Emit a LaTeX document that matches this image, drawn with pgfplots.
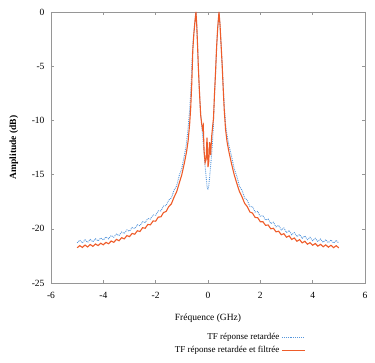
\documentclass[border=0pt]{standalone}
\usepackage{pgfplots}
\pgfplotsset{compat=1.18}
\usepackage{fontspec}
\setmainfont{Liberation Serif}

\definecolor{orng}{RGB}{238,92,42}
\definecolor{bluedot}{RGB}{85,150,220}
\definecolor{axgray}{RGB}{150,150,150}

\begin{document}
\begin{tikzpicture}
\useasboundingbox (-51pt,-80pt) rectangle (324pt,283pt);
\begin{axis}[
    scale only axis,
    width=314pt, height=271pt,
    xmin=-6, xmax=6, ymin=-25, ymax=0,
    xtick={-6,-4,...,6}, ytick={-25,-20,...,0},
    tick align=inside,
    major tick length=3pt,
    axis line style={axgray},
    every tick/.style={axgray},
    tick label style={font=\fontsize{9.5}{11}\selectfont},
    /pgf/number format/assume math mode=true,
    xticklabel style={yshift=-6pt},
    yticklabel style={xshift=-3pt},
    xlabel={Fréquence (GHz)},
    ylabel={\bfseries Amplitude (dB)},
    xlabel style={at={(axis description cs:0.5,-0.129)}, anchor=center, font=\fontsize{9.5}{11}\selectfont},
    ylabel style={at={(axis description cs:-0.118,0.5)}, anchor=center, font=\fontsize{9.5}{11}\selectfont},
    legend style={at={(axis description cs:0.82,-0.17)}, anchor=north east,
        draw=none, fill=none, font=\fontsize{9}{10}\selectfont,
        row sep=1.5pt},
    legend cell align=right,
    legend plot pos=right,
    legend image code/.code={\draw[#1] (0cm,0cm) -- (0.8cm,0cm);},
]
% TF reponse retardee
\addplot[bluedot, densely dotted, line width=0.9pt] coordinates {
(-5.0,-21.30) (-4.9,-21.05) (-4.8,-21.30) (-4.7,-21.02) (-4.6,-21.25)
(-4.5,-20.98) (-4.4,-21.20) (-4.3,-20.92) (-4.2,-21.12) (-4.1,-20.85)
(-4.0,-21.03) (-3.9,-20.75) (-3.8,-20.92) (-3.7,-20.62) (-3.6,-20.78)
(-3.5,-20.48) (-3.4,-20.62) (-3.3,-20.30) (-3.2,-20.43) (-3.1,-20.10)
(-3.0,-20.22) (-2.9,-19.88) (-2.8,-19.98) (-2.7,-19.63) (-2.6,-19.72)
(-2.5,-19.35) (-2.4,-19.42) (-2.3,-19.05) (-2.2,-19.10) (-2.1,-18.72)
(-2.0,-18.75) (-1.9,-18.35) (-1.8,-18.35) (-1.7,-17.90) (-1.6,-17.85)
(-1.5,-17.35) (-1.4,-17.15) (-1.3,-16.45) (-1.2,-16.05) (-1.1,-15.10)
(-1.0,-14.40) (-0.9,-13.20) (-0.84,-12.40) (-0.78,-11.20) (-0.72,-9.60)
(-0.68,-8.30) (-0.64,-6.40) (-0.60,-4.00) (-0.56,-2.40) (-0.50,-0.90)
(-0.46,0) (-0.43,-1.2) (-0.40,-3.0) (-0.37,-5.0) (-0.33,-7.2)
(-0.28,-9.5) (-0.24,-10.5) (-0.20,-11.5) (-0.15,-13.0) (-0.10,-14.5)
(-0.06,-15.5) (-0.03,-16.2) (0.00,-16.4) (0.03,-16.0) (0.06,-15.3)
(0.10,-14.2) (0.15,-12.8) (0.20,-10.8) (0.25,-7.5) (0.29,-5.5)
(0.33,-3.2) (0.37,-1.5) (0.42,0) (0.46,-1.2) (0.50,-3.0)
(0.54,-4.8) (0.58,-6.8) (0.62,-8.6) (0.67,-10.3) (0.73,-11.4)
(0.80,-12.3) (0.9,-13.3) (1.0,-14.45) (1.1,-15.15) (1.2,-16.05)
(1.3,-16.45) (1.4,-17.15) (1.5,-17.35) (1.6,-17.95) (1.7,-17.95)
(1.8,-18.45) (1.9,-18.40) (2.0,-18.85) (2.1,-18.78) (2.2,-19.20)
(2.3,-19.10) (2.4,-19.52) (2.5,-19.40) (2.6,-19.82) (2.7,-19.68)
(2.8,-20.10) (2.9,-19.92) (3.0,-20.35) (3.1,-20.15) (3.2,-20.55)
(3.3,-20.35) (3.4,-20.72) (3.5,-20.52) (3.6,-20.88) (3.7,-20.66)
(3.8,-21.00) (3.9,-20.78) (4.0,-21.10) (4.1,-20.88) (4.2,-21.18)
(4.3,-20.95) (4.4,-21.25) (4.5,-21.00) (4.6,-21.28) (4.7,-21.03)
(4.8,-21.32) (4.9,-21.06) (5.0,-21.34)
};
\addlegendentry{TF réponse retardée}
% TF reponse retardee et filtree
\addplot[orng, line width=1.1pt] coordinates {
(-5.0,-21.75) (-4.9,-21.55) (-4.8,-21.72) (-4.7,-21.50) (-4.6,-21.68)
(-4.5,-21.45) (-4.4,-21.62) (-4.3,-21.40) (-4.2,-21.55) (-4.1,-21.33)
(-4.0,-21.48) (-3.9,-21.25) (-3.8,-21.38) (-3.7,-21.13) (-3.6,-21.25)
(-3.5,-20.98) (-3.4,-21.10) (-3.3,-20.82) (-3.2,-20.93) (-3.1,-20.63)
(-3.0,-20.72) (-2.9,-20.43) (-2.8,-20.50) (-2.7,-20.18) (-2.6,-20.25)
(-2.5,-19.90) (-2.4,-19.95) (-2.3,-19.60) (-2.2,-19.63) (-2.1,-19.28)
(-2.0,-19.30) (-1.9,-18.92) (-1.8,-18.90) (-1.7,-18.50) (-1.6,-18.40)
(-1.5,-17.95) (-1.4,-17.70) (-1.3,-17.10) (-1.2,-16.60) (-1.1,-15.80)
(-1.0,-15.00) (-0.9,-13.90) (-0.82,-12.90) (-0.76,-11.90) (-0.70,-10.30)
(-0.66,-8.80) (-0.62,-6.60) (-0.58,-3.50) (-0.54,-2.00) (-0.50,-0.90)
(-0.46,0) (-0.43,-1.2) (-0.40,-3.0) (-0.37,-5.0) (-0.33,-7.2)
(-0.28,-9.5) (-0.24,-10.3) (-0.21,-10.8) (-0.18,-10.5) (-0.15,-12.8)
(-0.11,-13.9) (-0.07,-13.6) (-0.04,-11.6) (-0.02,-12.5) (0.00,-14.3)
(0.03,-13.8) (0.06,-12.0) (0.10,-13.2) (0.14,-11.5) (0.18,-10.5)
(0.21,-9.8) (0.25,-7.5) (0.29,-5.5) (0.33,-3.2) (0.37,-1.5)
(0.42,0) (0.46,-1.2) (0.50,-3.0) (0.54,-4.8) (0.58,-7.0)
(0.62,-9.0) (0.67,-10.8) (0.73,-12.0) (0.80,-12.9) (0.9,-14.0)
(1.0,-15.00) (1.1,-15.80) (1.2,-16.55) (1.3,-17.05) (1.4,-17.65)
(1.5,-17.95) (1.6,-18.45) (1.7,-18.55) (1.8,-18.95) (1.9,-18.98)
(2.0,-19.35) (2.1,-19.35) (2.2,-19.68) (2.3,-19.65) (2.4,-20.00)
(2.5,-19.95) (2.6,-20.28) (2.7,-20.22) (2.8,-20.55) (2.9,-20.45)
(3.0,-20.78) (3.1,-20.65) (3.2,-20.98) (3.3,-20.85) (3.4,-21.15)
(3.5,-21.00) (3.6,-21.30) (3.7,-21.15) (3.8,-21.42) (3.9,-21.28)
(4.0,-21.52) (4.1,-21.36) (4.2,-21.60) (4.3,-21.43) (4.4,-21.66)
(4.5,-21.48) (4.6,-21.70) (4.7,-21.52) (4.8,-21.74) (4.9,-21.56)
(5.0,-21.76)
};
\addlegendentry{TF réponse retardée et filtrée}
\end{axis}
\end{tikzpicture}
\end{document}
